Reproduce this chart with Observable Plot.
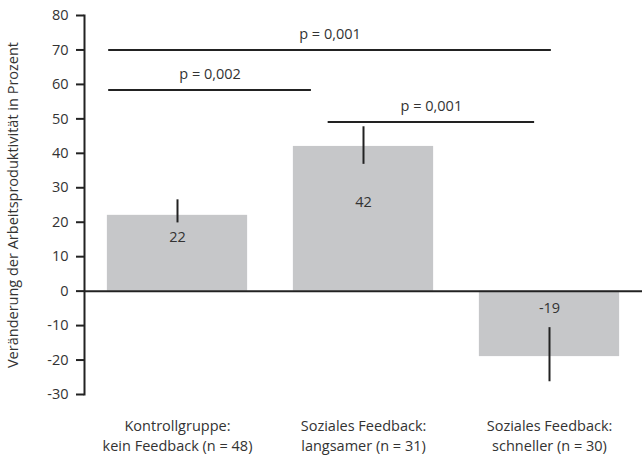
<!DOCTYPE html>
<html><head><meta charset="utf-8">
<script src="https://cdn.jsdelivr.net/npm/d3@7"></script>
<script src="https://cdn.jsdelivr.net/npm/@observablehq/plot@0.6"></script>
<style>
body{margin:0;background:#fff}
svg{display:block}
</style>
</head><body><div id="chart"></div>
<script>
const categories = [
  "Kontrollgruppe:\nkein Feedback (n = 48)",
  "Soziales Feedback:\nlangsamer (n = 31)",
  "Soziales Feedback:\nschneller (n = 30)"
];
const values = [22, 42, -19];
const errLow = [19.8, 36.8, -26.3];
const errHigh = [26.5, 47.7, -10.6];
const valueLabelAt = [15.6, 25.8, -5];
const yTicks = [80, 70, 60, 50, 40, 30, 20, 10, 0, -10, -20, -30];
const pLabels = ["p = 0,001", "p = 0,002", "p = 0,001"];
const pLevels = [70, 58.4, 49.1];
const pFrom = [-0.37, -0.37, 0.81];
const pTo = [2.01, 0.72, 1.92];
const yLabel = "Veränderung der Arbeitsproduktivität in Prozent";

const idx = categories.map((d, i) => i);
const bars = idx.map(i => ({i, v: values[i], lo: errLow[i], hi: errHigh[i], la: valueLabelAt[i]}));
const brackets = pLabels.map((t, k) => ({t, y: pLevels[k], x1: pFrom[k], x2: pTo[k]}));
const half = 0.377;
const ink = "#222";
const txt = "#333";
const fs = 14.5;

const chart = Plot.plot({
  width: 642,
  height: 457,
  marginLeft: 84,
  marginRight: 0,
  marginTop: 15,
  marginBottom: 63,
  style: {fontFamily: "Open Sans", fontSize: fs + "px", color: txt, background: "#fff"},
  x: {type: "linear", domain: [-0.5, 2.5]},
  y: {domain: [-30, 80]},
  marks: [
    Plot.rectY(bars, {x1: d => d.i - half, x2: d => d.i + half, y1: 0, y2: "v", fill: "#c6c7c9"}),
    Plot.ruleY([0], {stroke: ink, strokeWidth: 2}),
    Plot.frame({anchor: "left", stroke: ink, strokeWidth: 2}),
    Plot.ruleX(bars, {x: "i", y1: "lo", y2: "hi", stroke: ink, strokeWidth: 2}),
    Plot.text(bars, {x: "i", y: "la", text: d => String(d.v), fill: txt, fontSize: fs}),
    Plot.ruleY(brackets, {y: "y", x1: "x1", x2: "x2", stroke: ink, strokeWidth: 2}),
    Plot.text(brackets, {y: "y", x: d => (d.x1 + d.x2) / 2, text: "t", dy: -16, fill: txt, fontSize: fs}),
    Plot.axisY({ticks: yTicks, tickSize: 8, tickPadding: 8, tickFormat: d => String(d), stroke: ink, strokeWidth: 2, fill: txt, fontSize: fs,
      label: yLabel, labelAnchor: "center", labelArrow: "none", labelOffset: 77}),
    Plot.axisX({ticks: idx, tickFormat: i => categories[i], tickSize: 0, tickPadding: 22, fill: txt, fontSize: fs, lineHeight: 1.38, label: null})
  ]
});
document.getElementById("chart").appendChild(chart);
</script>
</body></html>
